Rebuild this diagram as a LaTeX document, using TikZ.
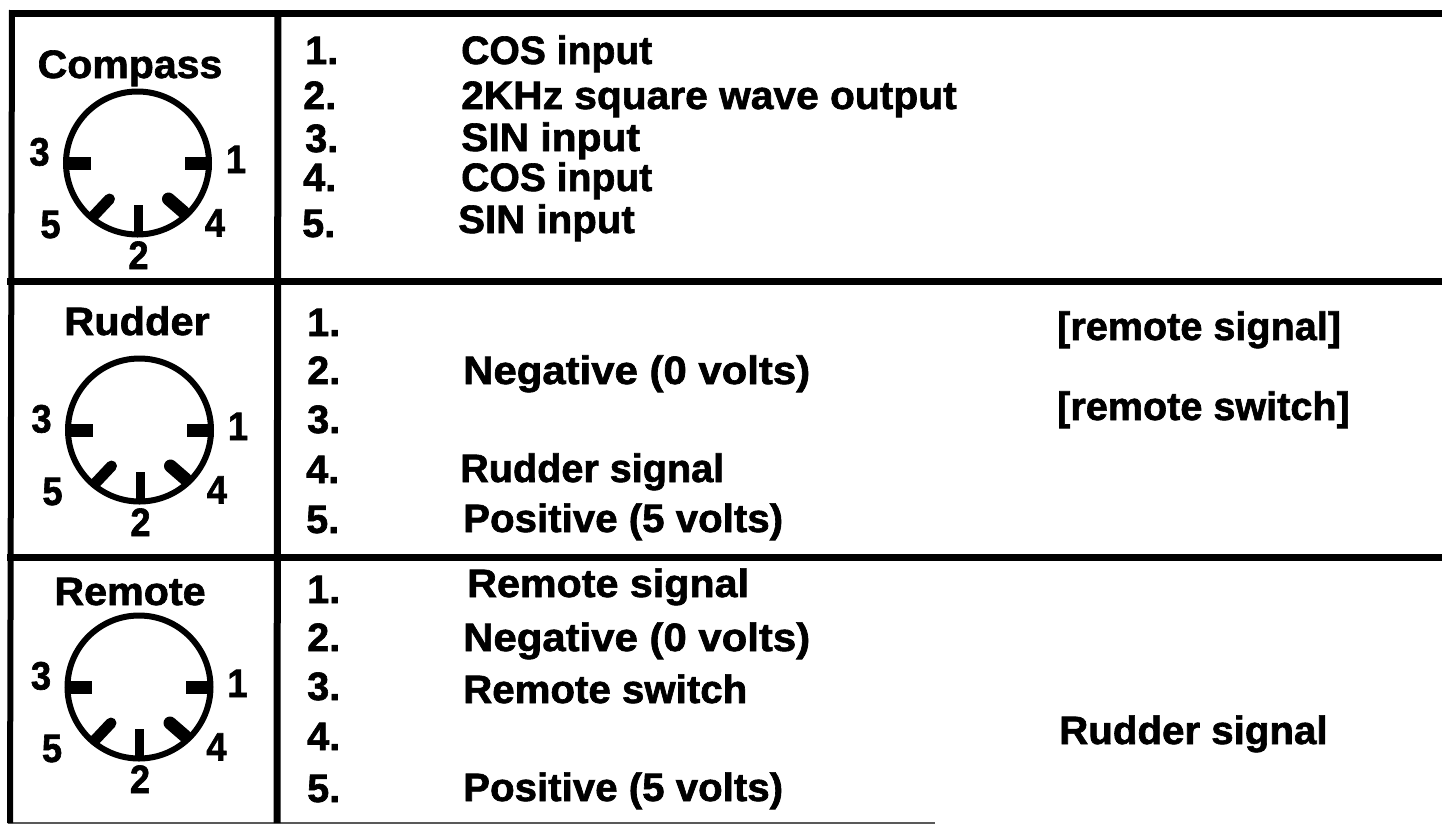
\documentclass[tikz,border=0pt]{standalone}
\usepackage{fontspec}
\setmainfont{Liberation Sans}[BoldFeatures={FakeBold=1.6}]
\tikzset{
  x=1pt,y=-1pt,
  rule/.style={line width=7pt,black},
  lab/.style={anchor=base west,inner sep=0pt,font=\fontsize{33}{33}\selectfont\bfseries},
  ctr/.style={anchor=base,inner sep=0pt,font=\fontsize{33}{33}\selectfont\bfseries},
  ring/.style={line width=6pt,black},
  pinh/.style={line width=13pt,black},
  pinf/.style={line width=11pt,black,line cap=round},
  pinv/.style={line width=13pt,black,line cap=round},
  pinb/.style={line width=9pt,black},
}
\newcommand{\tx}[2]{\scalebox{#1}[1.2]{#2}}
\newcommand{\din}[3]{%
  \draw[ring] (#2,#3) circle (71.5);
  \draw[pinh] (#2-74,#3) -- (#2-47,#3);
  \draw[pinh] (#2+74,#3) -- (#2+47,#3);
  \draw[pinf] (#2-44,#3+53) -- (#2-28,#3+36);
  \draw[pinv] (#2+46,#3+49) -- (#2+31,#3+36);
  \draw[pinb] (#2+0.5,#3+73) -- (#2+0.5,#3+42);
  \node[ctr] (#1p3) at (#2-98,#3+2.5) {\tx{1.1}{3}};
  \node[ctr] (#1p1) at (#2+98.5,#3+10) {\tx{1.1}{1}};
  \node[ctr] (#1p5) at (#2-87,#3+75) {\tx{1.1}{5}};
  \node[ctr] (#1p4) at (#2+77.5,#3+73.5) {\tx{1.1}{4}};
  \node[ctr] (#1p2) at (#2+1,#3+106) {\tx{1.1}{2}};
}
\begin{document}
\begin{tikzpicture}
\useasboundingbox (0,0) rectangle (1442,823);
\fill[white] (0,0) rectangle (1442,823);
\draw[rule] (9,13) -- (1442,13);
\draw[rule] (7,281) -- (1442,281);
\draw[rule] (7,557.5) -- (1442,557.5);
\draw[line width=3pt,black!65] (8,823) -- (935,823);
\draw[line width=6pt,black] (12,10) -- (10,823);
\draw[rule] (278,10) -- (277,823);
\din{a}{137.5}{163}
\din{b}{139.5}{430}
\din{c}{139}{687}
\node[ctr] (ta) at (130,78) {\tx{1.243}{Compass}};
\node[ctr] (tb) at (137,335) {\tx{1.26}{Rudder}};
\node[ctr] (tc) at (130,605) {\tx{1.25}{Remote}};
% Compass table
\node[lab] (a1) at (305,64) {\tx{1.2}{1.}};
\node[lab] (a2) at (303,109) {\tx{1.2}{2.}};
\node[lab] (a3) at (305,152) {\tx{1.2}{3.}};
\node[lab] (a4) at (303,191) {\tx{1.2}{4.}};
\node[lab] (a5) at (302,237) {\tx{1.2}{5.}};
\node[lab] (at1) at (461,64) {\tx{1.185}{COS input}};
\node[lab] (at2) at (461,109) {\tx{1.234}{2KHz square wave output}};
\node[lab] (at3) at (461,151) {\tx{1.235}{SIN input}};
\node[lab] (at4) at (461,191) {\tx{1.185}{COS input}};
\node[lab] (at5) at (458,233) {\tx{1.22}{SIN input}};
% Rudder table
\node[lab] (b1) at (307,336) {\tx{1.2}{1.}};
\node[lab] (b2) at (307,384) {\tx{1.2}{2.}};
\node[lab] (b3) at (307,433) {\tx{1.2}{3.}};
\node[lab] (b4) at (306,483) {\tx{1.2}{4.}};
\node[lab] (b5) at (306,533) {\tx{1.2}{5.}};
\node[lab] (bt2) at (463,384) {\tx{1.27}{Negative (0 volts)}};
\node[lab] (bt4) at (460,482) {\tx{1.2}{Rudder signal}};
\node[lab] (bt5) at (463,532) {\tx{1.22}{Positive (5 volts)}};
\node[lab] (br1) at (1057,340) {\tx{1.2}{[remote signal]}};
\node[lab] (br3) at (1057,420) {\tx{1.2}{[remote switch]}};
% Remote table
\node[lab] (c1) at (307,603) {\tx{1.2}{1.}};
\node[lab] (c2) at (307,651) {\tx{1.2}{2.}};
\node[lab] (c3) at (307,700) {\tx{1.2}{3.}};
\node[lab] (c4) at (307,750) {\tx{1.2}{4.}};
\node[lab] (c5) at (307,802) {\tx{1.2}{5.}};
\node[lab] (ct1) at (467,597) {\tx{1.25}{Remote signal}};
\node[lab] (ct2) at (463,651) {\tx{1.27}{Negative (0 volts)}};
\node[lab] (ct3) at (463,703) {\tx{1.22}{Remote switch}};
\node[lab] (ct5) at (463,801) {\tx{1.22}{Positive (5 volts)}};
\node[lab] (cr4) at (1059,744) {\tx{1.22}{Rudder signal}};
\end{tikzpicture}
\end{document}
